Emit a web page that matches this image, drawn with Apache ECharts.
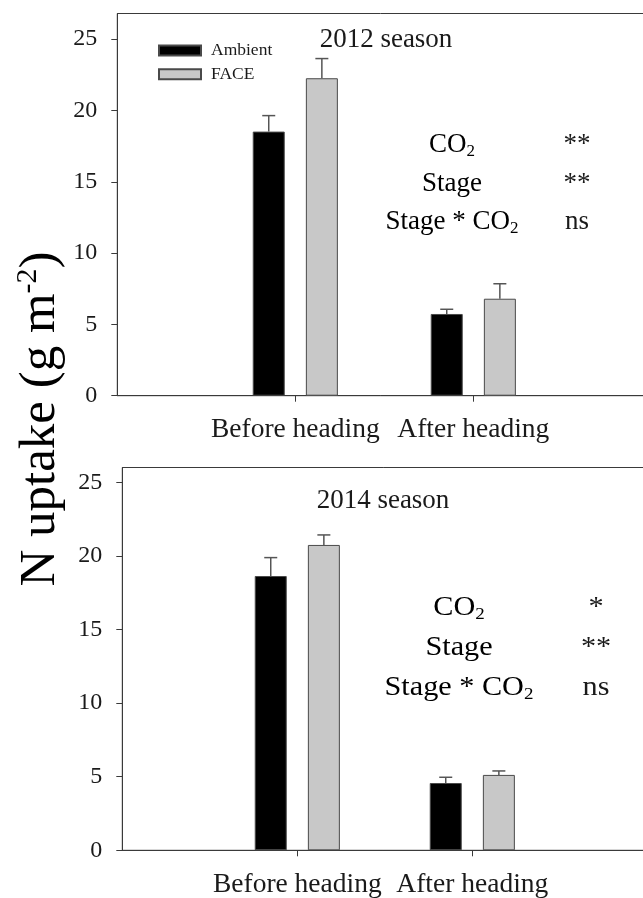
<!DOCTYPE html>
<html><head><meta charset="utf-8">
<script src="https://cdn.jsdelivr.net/npm/echarts@6/dist/echarts.min.js"></script>
<style>html,body{margin:0;padding:0;background:#fff}#c{width:643px;height:898px}</style>
</head><body><div id="c"></div>
<script>
// ---- data ----
const categories = ['', 'Before heading', 'After heading', ''];
const seriesNames = ['Ambient', 'FACE'];
const ambient2012 = [null, 18.52, 5.73, null];
const face2012 = [null, 22.26, 6.80, null];
const ambientErr2012 = [null, 1.12, 0.33, null];
const faceErr2012 = [null, 1.38, 1.05, null];
const ambient2014 = [null, 18.63, 4.57, null];
const face2014 = [null, 20.74, 5.12, null];
const ambientErr2014 = [null, 1.25, 0.39, null];
const faceErr2014 = [null, 0.68, 0.27, null];
const yTicks = [0, 5, 10, 15, 20, 25];
const seasonTitles = ['2012 season', '2014 season'];
const statTerms = ['CO2', 'Stage', 'Stage * CO2'];
const signif2012 = ['**', '**', 'ns'];
const signif2014 = ['*', '**', 'ns'];

// ---- style ----
const FONT = 'Liberation Serif';
const BAR_W = 32, BAR_GAP = 0.66;
const OFF = BAR_W * (1 + BAR_GAP) / 2;
const AX = '#3a3a3a';

function errData(vals, errs) {
  const out = [];
  vals.forEach((v, i) => { if (v != null) out.push([i, v, errs[i]]); });
  return out;
}
function errRender(offset) {
  return function (params, api) {
    const x = api.value(0), v = api.value(1), e = api.value(2);
    const b = api.coord([x, v]), t = api.coord([x, v + e]);
    const cx = b[0] + offset;
    const st = { stroke: '#555', lineWidth: 1.5 };
    return { type: 'group', children: [
      { type: 'line', shape: { x1: cx, y1: b[1], x2: cx, y2: t[1] }, style: st },
      { type: 'line', shape: { x1: cx - 6.5, y1: t[1], x2: cx + 6.5, y2: t[1] }, style: st }
    ]};
  };
}
function xAxisCfg(gi) {
  const show = (i) => i === 1 || i === 2;
  return {
    gridIndex: gi, type: 'category', data: categories, boundaryGap: false,
    axisLine: { lineStyle: { color: AX, width: 1 } },
    axisTick: { interval: (i) => show(i), length: 6, lineStyle: { color: AX } },
    axisLabel: { interval: (i) => show(i), margin: 20, fontFamily: FONT, fontSize: 27.5, color: '#1a1a1a', hideOverlap: false },
    splitLine: { show: false }
  };
}
function yAxisCfg(gi, max) {
  return {
    gridIndex: gi, type: 'value', min: 0, max: max, interval: 5,
    axisLine: { show: true, lineStyle: { color: AX, width: 1 } },
    axisTick: { show: true, length: 6, customValues: yTicks, lineStyle: { color: AX } },
    axisLabel: { margin: 20, customValues: yTicks, fontFamily: FONT, fontSize: 24, color: '#1a1a1a',
      formatter: (v) => (v % 5 === 0 ? String(v) : '') },
    splitLine: { show: false }
  };
}
function barSeries(name, gi, data, fill) {
  return {
    name: name, type: 'bar', xAxisIndex: gi, yAxisIndex: gi, data: data,
    barWidth: BAR_W, barGap: (BAR_GAP * 100) + '%',
    itemStyle: { color: fill, borderColor: '#4a4a4a', borderWidth: 1 },
    emphasis: { disabled: true }, z: 2
  };
}
function errSeries(gi, vals, errs, offset) {
  return {
    type: 'custom', xAxisIndex: gi, yAxisIndex: gi, data: errData(vals, errs),
    renderItem: errRender(offset), z: 3, silent: true
  };
}
const richCO = {
  n: { fontFamily: FONT, fontSize: 27, color: '#1a1a1a', lineHeight: 30 },
  s: { fontFamily: FONT, fontSize: 17, color: '#1a1a1a', verticalAlign: 'bottom', lineHeight: 12 }
};
function termText(t) {
  return t.split('CO2').map((p) => (p ? '{n|' + p + '}' : '')).join('{n|CO}{s|2}');
}
function statGraphics(terms, sig, xL, xR, y0, dy, sx) {
  const els = [];
  terms.forEach((t, i) => {
    els.push({ type: 'text', x: xL, y: y0 + i * dy, scaleX: sx, silent: true,
      style: { text: termText(t), rich: richCO, x: 0, y: 0, align: 'center', verticalAlign: 'middle',
        textAlign: 'center', textVerticalAlign: 'middle' } });
    els.push({ type: 'text', x: xR, y: y0 + i * dy, scaleX: sx, silent: true,
      style: { text: sig[i], x: 0, y: 0, font: '27px "' + FONT + '"', fill: '#1a1a1a',
        align: 'center', verticalAlign: 'middle', textAlign: 'center', textVerticalAlign: 'middle' } });
  });
  return els;
}

const graphics = [
  { type: 'text', x: 386, y: 40, silent: true,
    style: { text: seasonTitles[0], x: 0, y: 0, font: '27px "' + FONT + '"', fill: '#1a1a1a',
      align: 'center', verticalAlign: 'middle', textAlign: 'center', textVerticalAlign: 'middle' } },
  { type: 'text', x: 383, y: 501, silent: true,
    style: { text: seasonTitles[1], x: 0, y: 0, font: '27px "' + FONT + '"', fill: '#1a1a1a',
      align: 'center', verticalAlign: 'middle', textAlign: 'center', textVerticalAlign: 'middle' } },
  { type: 'text', x: 41, y: 419, rotation: Math.PI / 2, silent: true,
    style: { text: '{a|N uptake (g m}{b|-2}{a|)}', x: 0, y: 0, align: 'center', verticalAlign: 'middle',
      textAlign: 'center', textVerticalAlign: 'middle',
      rich: { a: { fontFamily: FONT, fontSize: 51, color: '#1a1a1a', lineHeight: 56 },
              b: { fontFamily: FONT, fontSize: 30, color: '#1a1a1a', verticalAlign: 'top', lineHeight: 30 } } } }
].concat(statGraphics(statTerms, signif2012, 452, 577, 145, 38.5, 1))
 .concat(statGraphics(statTerms, signif2014, 459, 596, 608, 40, 1.12));

const chart = echarts.init(document.getElementById('c'), null, { renderer: 'canvas' });
chart.setOption({
  backgroundColor: '#fff',
  animation: false,
  grid: [
    { left: 117.3, top: 13.5, width: 534, height: 382.2, show: true, borderColor: AX, borderWidth: 1,
      backgroundColor: 'transparent', outerBoundsMode: 'none', containLabel: false },
    { left: 122.3, top: 467.5, width: 525, height: 382.8, show: true, borderColor: AX, borderWidth: 1,
      backgroundColor: 'transparent', outerBoundsMode: 'none', containLabel: false }
  ],
  legend: {
    data: seriesNames, orient: 'vertical', left: 158, top: 41.5, padding: 0,
    itemWidth: 42, itemHeight: 10, itemGap: 5.7, icon: 'rect', selectedMode: false,
    textStyle: { fontFamily: FONT, fontSize: 17.5, color: '#1a1a1a', padding: [0, 0, 0, 5] }
  },
  xAxis: [xAxisCfg(0), xAxisCfg(1)],
  yAxis: [yAxisCfg(0, 26.8), yAxisCfg(1, 26)],
  series: [
    barSeries(seriesNames[0], 0, ambient2012, '#000000'),
    barSeries(seriesNames[1], 0, face2012, '#c8c8c8'),
    barSeries(seriesNames[0], 1, ambient2014, '#000000'),
    barSeries(seriesNames[1], 1, face2014, '#c8c8c8'),
    errSeries(0, ambient2012, ambientErr2012, -OFF),
    errSeries(0, face2012, faceErr2012, OFF),
    errSeries(1, ambient2014, ambientErr2014, -OFF),
    errSeries(1, face2014, faceErr2014, OFF)
  ],
  graphic: graphics
});
</script></body></html>
